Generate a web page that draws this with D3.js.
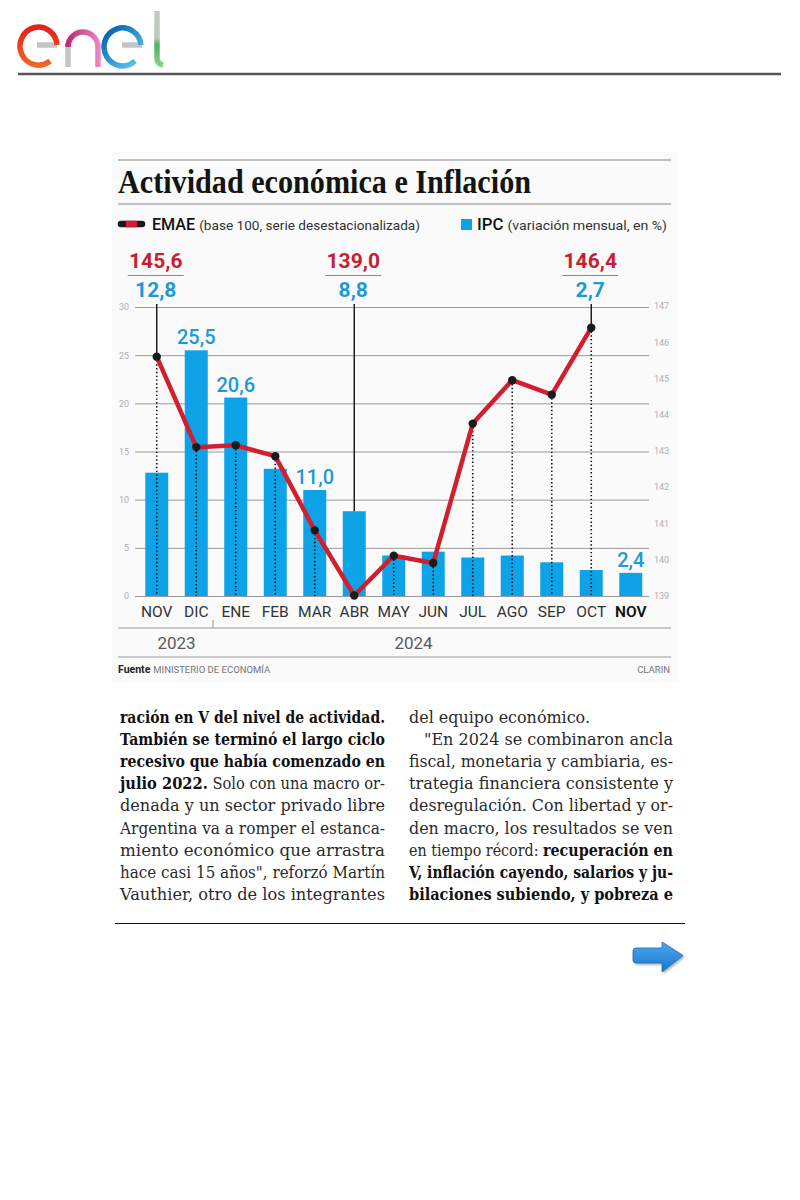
<!DOCTYPE html>
<html><head><meta charset="utf-8">
<script src="https://cdn.jsdelivr.net/npm/d3@7"></script>
<style>body{margin:0;background:#fff}svg{display:block}</style>
</head><body>
<svg id="c" width="800" height="1200"></svg>
<script>
// ---------- DATA ----------
const periods = ["2023-11","2023-12","2024-01","2024-02","2024-03","2024-04","2024-05","2024-06","2024-07","2024-08","2024-09","2024-10","2024-11"];
const months  = ["NOV","DIC","ENE","FEB","MAR","ABR","MAY","JUN","JUL","AGO","SEP","OCT","NOV"];
const ipc     = [12.8,25.5,20.6,13.2,11.0,8.8,4.2,4.6,4.0,4.2,3.5,2.7,2.4];
const emae    = [145.6,143.1,143.15,142.85,140.8,139.0,140.1,139.9,143.75,144.95,144.55,146.4,null];
const leftTicks  = [0,5,10,15,20,25,30];
const rightTicks = [139,140,141,142,143,144,145,146,147];
const highlightIdx = [0,5,11];        // months annotated on top (EMAE / IPC)
const barLabelIdx  = [1,2,4,12];      // bars with their own value label
const years = [{label:"2023", a:0, b:1}, {label:"2024", a:2, b:11}];
const titleText = "Actividad económica e Inflación";
const legendEmae = ["EMAE","(base 100, serie desestacionalizada)"];
const legendIpc  = ["IPC","(variación mensual, en %)"];
const sourceLabel = "Fuente", sourceText = "MINISTERIO DE ECONOMÍA", creditText = "CLARIN";

const leftCol = [
  [["ración en V del nivel de actividad.",1]],
  [["También se terminó el largo ciclo",1]],
  [["recesivo que había comenzado en",1]],
  [["julio 2022.",1],["Solo con una macro or-",0]],
  [["denada y un sector privado libre",0]],
  [["Argentina va a romper el estanca-",0]],
  [["miento económico que arrastra",0]],
  [["hace casi 15 años\", reforzó Martín",0]],
  [["Vauthier, otro de los integrantes",0]]
];
const rightCol = [
  [["del equipo económico.",0]],
  [["\"En 2024 se combinaron ancla",0]],
  [["fiscal, monetaria y cambiaria, es-",0]],
  [["trategia financiera consistente y",0]],
  [["desregulación. Con libertad y or-",0]],
  [["den macro, los resultados se ven",0]],
  [["en tiempo récord:",0],["recuperación en",1]],
  [["V, inflación cayendo, salarios y ju-",1]],
  [["bilaciones subiendo, y pobreza e",1]]
];

// ---------- SETUP ----------
const svg = d3.select("#c");
const loc = d3.formatLocale({decimal:",", thousands:".", grouping:[3], currency:["$",""]});
const f1 = loc.format(".1f");
const SANS = "Roboto, 'Noto Sans', sans-serif";
const SERIF = "'Liberation Serif', 'DejaVu Serif', serif";
const BODY = "'DejaVu Serif', 'Liberation Serif', serif";
const BLUE = "#0ea2e6", BLUE_T = "#1c9ad6", RED = "#d21f30", RED_T = "#c51f33";

const defs = svg.append("defs");
function grad(id, x1,y1,x2,y2, stops){
  const g = defs.append("linearGradient").attr("id",id).attr("gradientUnits","userSpaceOnUse")
    .attr("x1",x1).attr("y1",y1).attr("x2",x2).attr("y2",y2);
  stops.forEach(s=>g.append("stop").attr("offset",s[0]).attr("stop-color",s[1]));
}
grad("gE1",0,28,0,68,[[0,"#e2231a"],[1,"#f26a21"]]);
grad("gN",68,0,100,0,[[0,"#c1277b"],[1,"#ea8cbf"]]);
grad("gE2",105,30,140,66,[[0,"#0061ad"],[1,"#62cbf1"]]);
grad("gL",0,10,0,66,[[0,"#c8c8c8"],[0.5,"#b9c9b9"],[0.62,"#4fb15a"],[1,"#8bd08c"]]);
grad("gA",0,942,0,972,[[0,"#4aa6ef"],[1,"#1d78cc"]]);
const flt = defs.append("filter").attr("id","sh").attr("x","-20%").attr("y","-20%").attr("width","150%").attr("height","160%");
flt.append("feDropShadow").attr("dx",1.5).attr("dy",1.5).attr("stdDeviation",1.2).attr("flood-color","#777").attr("flood-opacity",0.6);

// ---------- HEADER (logo + rule) ----------
const logo = svg.append("g").attr("fill","none").attr("stroke-width",5.5);
logo.append("path").attr("d","M37,45 H57").attr("stroke","#c4c4c4");
logo.append("path").attr("d","M57,45 A18.5,19 0 1 0 50,61").attr("stroke","url(#gE1)");
logo.append("path").attr("d","M68,43 V67").attr("stroke","#c4c4c4");
logo.append("path").attr("d","M68,47 A15,15 0 0 1 98,47 V67").attr("stroke","url(#gN)");
logo.append("path").attr("d","M122,45 H142").attr("stroke","#c4c4c4");
logo.append("path").attr("d","M141,45 A18.5,19 0 1 0 135,61").attr("stroke","url(#gE2)");
logo.append("path").attr("d","M157,11 V58 Q157,64 163,65").attr("stroke","url(#gL)");
svg.append("line").attr("x1",18).attr("x2",781).attr("y1",74).attr("y2",74).attr("stroke","#555").attr("stroke-width",2.5);

// ---------- helper: run of text segments fitted to a width ----------
function fitRun(x0, target, y, segs, gap, styleFn){
  const nodes = segs.map(s=>{
    const t = svg.append("text").attr("y",y).text(s[0]);
    styleFn(t, s);
    return {t, w: t.node().getComputedTextLength()};
  });
  const nat = d3.sum(nodes, n=>n.w) + gap*(nodes.length-1);
  const k = target / nat;
  let xc = x0;
  nodes.forEach(n=>{
    n.t.attr("x",xc).attr("textLength",n.w*k).attr("lengthAdjust","spacingAndGlyphs");
    xc += n.w*k + gap*k;
  });
}

// ---------- CHART PANEL ----------
svg.append("rect").attr("x",112).attr("y",152).attr("width",566).attr("height",530).attr("fill","#fafafa");
svg.append("line").attr("x1",118).attr("x2",671).attr("y1",160).attr("y2",160).attr("stroke","#8a8a8a");
svg.append("text").attr("x",118).attr("y",193).attr("font-family",SERIF).attr("font-weight",700)
  .attr("font-size",33).attr("fill","#141414").attr("textLength",413).attr("lengthAdjust","spacingAndGlyphs").text(titleText);
svg.append("line").attr("x1",118).attr("x2",671).attr("y1",204).attr("y2",204).attr("stroke","#8a8a8a");

// legend
svg.append("line").attr("x1",121).attr("x2",142).attr("y1",224).attr("y2",224).attr("stroke","#1a1a1a").attr("stroke-width",6.5).attr("stroke-linecap","round");
svg.append("line").attr("x1",126).attr("x2",137).attr("y1",224).attr("y2",224).attr("stroke",RED).attr("stroke-width",6.5);
const legStyle = (t,s)=>{ t.attr("font-family",SANS);
  if (s[1]) t.attr("font-size",16).attr("font-weight",500).attr("fill","#111");
  else t.attr("font-size",13.5).attr("fill","#333"); };
fitRun(152, 268, 230, [[legendEmae[0],1],[legendEmae[1],0]], 4, legStyle);
svg.append("rect").attr("x",461).attr("y",219).attr("width",11).attr("height",11).attr("fill",BLUE);
fitRun(477, 190, 230, [[legendIpc[0],1],[legendIpc[1],0]], 4, legStyle);

// scales
const x = d3.scaleBand().domain(periods).range([137,650.5]).paddingInner(0.418).paddingOuter(0.209);
const cx = i => x(periods[i]) + x.bandwidth()/2;
const yL = d3.scaleLinear().domain([0,30]).range([596,307]);
const yR = d3.scaleLinear().domain([139,147]).range([595.5,306]);

// gridlines (left scale)
const gAxisL = svg.append("g").attr("transform","translate(135,0)")
  .call(d3.axisLeft(yL).tickValues(leftTicks).tickSize(-514).tickPadding(6).tickFormat(d3.format("d")));
gAxisL.select(".domain").remove();
gAxisL.selectAll(".tick line").attr("stroke","#9a9a9a").attr("stroke-width",1);
gAxisL.selectAll(".tick text").attr("font-family",SANS).attr("font-size",9).attr("fill","#b0b0b0");

const gAxisR = svg.append("g").attr("transform","translate(649,0)")
  .call(d3.axisRight(yR).tickValues(rightTicks).tickSize(0).tickPadding(5).tickFormat(d3.format("d")));
gAxisR.select(".domain").remove();
gAxisR.selectAll(".tick text").attr("font-family",SANS).attr("font-size",9).attr("fill","#b0b0b0");

// bars
svg.append("g").selectAll("rect").data(ipc).join("rect")
  .attr("x",(d,i)=>x(periods[i])).attr("width",x.bandwidth())
  .attr("y",d=>yL(d)).attr("height",d=>yL(0)-yL(d)).attr("fill",BLUE);

// dotted drop lines
svg.append("g").selectAll("line").data(emae.map((v,i)=>({v,i})).filter(d=>d.v!=null)).join("line")
  .attr("x1",d=>cx(d.i)).attr("x2",d=>cx(d.i)).attr("y1",d=>yR(d.v)).attr("y2",yL(0))
  .attr("stroke","#111").attr("stroke-width",1.6).attr("stroke-dasharray","1.4,2.4");

// solid callout lines
svg.append("g").selectAll("line").data(highlightIdx).join("line")
  .attr("x1",i=>cx(i)).attr("x2",i=>cx(i)).attr("y1",304)
  .attr("y2",i=>Math.min(yR(emae[i]), yL(ipc[i])))
  .attr("stroke","#111").attr("stroke-width",1.4);

// EMAE line
const line = d3.line().defined(d=>d.v!=null).x(d=>cx(d.i)).y(d=>yR(d.v));
const pts = emae.map((v,i)=>({v,i}));
svg.append("path").attr("d",line(pts)).attr("fill","none").attr("stroke",RED)
  .attr("stroke-width",4.5).attr("stroke-linejoin","round");
svg.append("g").selectAll("circle").data(pts.filter(d=>d.v!=null)).join("circle")
  .attr("cx",d=>cx(d.i)).attr("cy",d=>yR(d.v)).attr("r",4.2).attr("fill","#1a1a1a");

// top annotations
const ann = svg.append("g").attr("font-family",SANS).attr("font-weight",700).attr("text-anchor","middle");
highlightIdx.forEach(i=>{
  const c = cx(i) - 1;
  ann.append("text").attr("x",c).attr("y",268).attr("font-size",21).attr("fill",RED_T).text(f1(emae[i]));
  ann.append("line").attr("x1",c-28).attr("x2",c+28).attr("y1",275.5).attr("y2",275.5).attr("stroke","#8a8a8a").attr("stroke-width",1.2);
  ann.append("text").attr("x",c).attr("y",297).attr("font-size",21).attr("fill",BLUE_T).text(f1(ipc[i]));
});

// bar value labels
svg.append("g").selectAll("text").data(barLabelIdx).join("text")
  .attr("x",i=>cx(i)).attr("y",i=>yL(ipc[i])-6).attr("text-anchor","middle")
  .attr("font-family",SANS).attr("font-weight",500).attr("font-size",20).attr("fill",BLUE_T)
  .text(i=>f1(ipc[i]));

// month labels
svg.append("g").selectAll("text").data(months).join("text")
  .attr("x",(d,i)=>cx(i)).attr("y",617).attr("text-anchor","middle")
  .attr("font-family",SANS).attr("font-size",15.5)
  .attr("font-weight",(d,i)=>i===months.length-1?600:400)
  .attr("fill",(d,i)=>i===months.length-1?"#111":"#333").text(d=>d);

// year band
svg.append("line").attr("x1",118).attr("x2",671).attr("y1",628).attr("y2",628).attr("stroke","#9a9a9a");
const sep = (cx(1)+cx(2))/2 - 3;
svg.append("line").attr("x1",sep).attr("x2",sep).attr("y1",620).attr("y2",628).attr("stroke","#9a9a9a");
svg.append("g").selectAll("text").data(years).join("text")
  .attr("x",d=>(cx(d.a)+cx(d.b))/2).attr("y",649).attr("text-anchor","middle")
  .attr("font-family",SANS).attr("font-size",17).attr("fill","#5a5a5a").text(d=>d.label);
svg.append("line").attr("x1",118).attr("x2",671).attr("y1",657).attr("y2",657).attr("stroke","#9a9a9a");

// source
const srcA = svg.append("text").attr("x",118).attr("y",673).attr("font-family",SANS)
  .attr("font-size",10.5).attr("font-weight",700).attr("fill","#222").text(sourceLabel);
svg.append("text").attr("x",118 + srcA.node().getComputedTextLength() + 3).attr("y",673).attr("font-family",SANS)
  .attr("font-size",9.5).attr("fill","#777").text(sourceText);
svg.append("text").attr("x",670).attr("y",673).attr("text-anchor","end").attr("font-family",SANS)
  .attr("font-size",9.5).attr("fill","#777").text(creditText);

// ---------- BODY TEXT ----------
const bodyStyle = (t,s)=>t.attr("font-family",BODY).attr("font-size",16)
  .attr("font-weight",s[1]?700:400).attr("fill",s[1]?"#111":"#2a2a2a");
function column(lines, x0, x1, opts){
  lines.forEach((segs,k)=>{
    const y = 723 + k*22.1;
    let xs = x0, w = x1 - x0;
    if (opts.indent && opts.indent[k]) { xs += opts.indent[k]; w -= opts.indent[k]; }
    const target = (opts.ragged && opts.ragged[k]) ? opts.ragged[k] : w;
    fitRun(xs, target, y, segs, 5, bodyStyle);
  });
}
column(leftCol,120,385,{});
column(rightCol,409,673,{indent:{1:15}, ragged:{0:181}});

svg.append("line").attr("x1",115).attr("x2",685).attr("y1",923.5).attr("y2",923.5).attr("stroke","#111").attr("stroke-width",1.2);

// arrow
svg.append("path")
  .attr("d","M636,948 L662,948 L662,942 L683,955.5 L662,972 L662,963 L636,963 Q633,963 633,960 L633,951 Q633,948 636,948 Z")
  .attr("fill","url(#gA)").attr("stroke","#1b6cb5").attr("stroke-width",0.8).attr("filter","url(#sh)");
</script>
</body></html>
